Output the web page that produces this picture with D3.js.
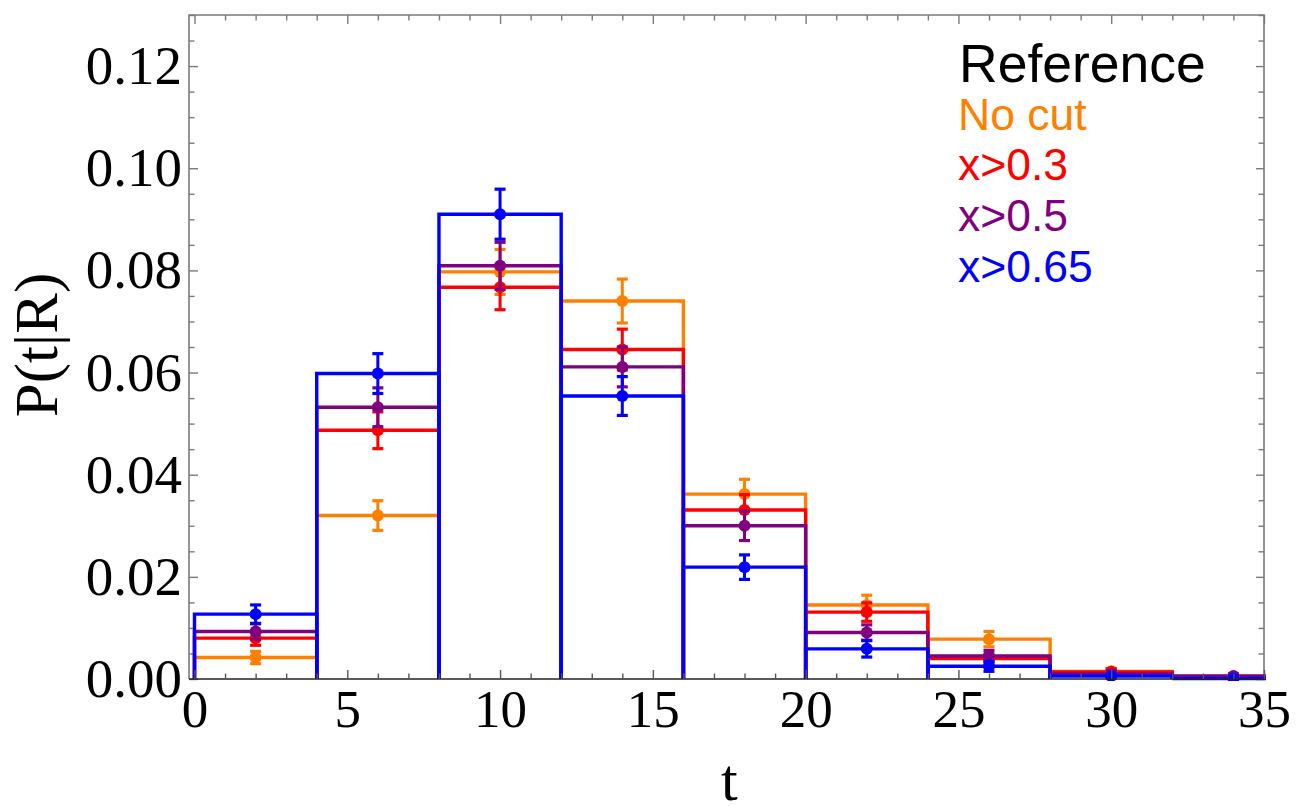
<!DOCTYPE html>
<html>
<head>
<meta charset="utf-8">
<script src="https://cdn.jsdelivr.net/npm/d3@7"></script>
<style>
  html, body { margin: 0; padding: 0; background: #fff; }
  svg { display: block; }
</style>
</head>
<body>
<svg id="chart" width="1298" height="806"></svg>
<script>
// Histogram bins in t (width 4)
const binEdges = [0, 4, 8, 12, 16, 20, 24, 28, 32, 36];
const binCenters = [2, 6, 10, 14, 18, 22, 26, 30, 34];

// P(t|R) per bin and its uncertainty, one pair per selection
const noCut      = [0.0042, 0.0320, 0.0797, 0.0740, 0.0362, 0.0145, 0.0078, 0.0015, 0.0005];
const noCutErr   = [0.0012, 0.0029, 0.0044, 0.0043, 0.0029, 0.0019, 0.0015, 0.0004, 0.0002];
const cut03      = [0.0080, 0.0487, 0.0767, 0.0645, 0.0331, 0.0131, 0.0040, 0.0014, 0.0004];
const cut03Err   = [0.0014, 0.0036, 0.0044, 0.0040, 0.0030, 0.0018, 0.0009, 0.0006, 0.0003];
const cut05      = [0.0093, 0.0532, 0.0809, 0.0611, 0.0300, 0.0091, 0.0045, 0.0010, 0.0006];
const cut05Err   = [0.0015, 0.0038, 0.0046, 0.0039, 0.0029, 0.0015, 0.0011, 0.0005, 0.0004];
const cut065     = [0.0127, 0.0598, 0.0910, 0.0554, 0.0219, 0.0059, 0.0025, 0.0006, 0.0001];
const cut065Err  = [0.0018, 0.0039, 0.0049, 0.0038, 0.0024, 0.0016, 0.0010, 0.0004, 0.0002];

const seriesNames = ["No cut", "x>0.3", "x>0.5", "x>0.65"];
const seriesColors = ["#FF8000", "#FF0000", "#800080", "#0000FF"];

const xTicksMajor = [0, 5, 10, 15, 20, 25, 30, 35];
const yTicksMajor = [0, 0.02, 0.04, 0.06, 0.08, 0.10, 0.12];

const series = [
  { name: seriesNames[0], color: seriesColors[0], values: noCut, errors: noCutErr },
  { name: seriesNames[1], color: seriesColors[1], values: cut03, errors: cut03Err },
  { name: seriesNames[2], color: seriesColors[2], values: cut05, errors: cut05Err },
  { name: seriesNames[3], color: seriesColors[3], values: cut065, errors: cut065Err }
];

const svg = d3.select("#chart");
const frame = { left: 189, right: 1264, top: 15, bottom: 679 };

const x = d3.scaleLinear().domain([-0.18, 35]).range([frame.left, frame.right]);
const y = d3.scaleLinear().domain([0, 0.13]).range([frame.bottom, frame.top]);

const serif = "'Liberation Serif', 'Times New Roman', serif";
const sans = "'Liberation Sans', Arial, Helvetica, sans-serif";
const frameColor = "#7a7a7a";

// clip region for the plot area
svg.append("defs").append("clipPath").attr("id", "plotClip")
  .append("rect")
  .attr("x", frame.left).attr("y", frame.top - 2)
  .attr("width", frame.right - frame.left + 2)
  .attr("height", frame.bottom - frame.top + 4);

// Frame: left, top, right
svg.append("path")
  .attr("d", `M${frame.left},${frame.bottom}V${frame.top}H${frame.right}V${frame.bottom}`)
  .attr("fill", "none").attr("stroke", frameColor).attr("stroke-width", 1.6);

const xMinor = d3.range(0, 36, 1).filter(v => v % 5 !== 0);
const yMinor = d3.range(0, 27).map(i => +(i * 0.005).toFixed(3)).filter((v, i) => i % 4 !== 0);

function styleTicks(g, color) {
  g.select(".domain").remove();
  g.selectAll(".tick line").attr("stroke", color).attr("stroke-width", 1.4);
}

// Left axis
const leftMajor = svg.append("g").attr("transform", `translate(${frame.left},0)`)
  .call(d3.axisLeft(y).tickValues(yTicksMajor).tickSize(-9).tickPadding(7).tickFormat(d3.format(".2f")));
styleTicks(leftMajor, frameColor);
leftMajor.selectAll(".tick text").attr("font-family", serif).attr("font-size", 55).attr("fill", "#000");
const leftMinor = svg.append("g").attr("transform", `translate(${frame.left},0)`)
  .call(d3.axisLeft(y).tickValues(yMinor).tickSize(-5.5).tickFormat(""));
styleTicks(leftMinor, frameColor);

// Right axis (ticks only)
const rightMajor = svg.append("g").attr("transform", `translate(${frame.right},0)`)
  .call(d3.axisRight(y).tickValues(yTicksMajor).tickSize(-8).tickFormat(""));
styleTicks(rightMajor, frameColor);
const rightMinor = svg.append("g").attr("transform", `translate(${frame.right},0)`)
  .call(d3.axisRight(y).tickValues(yMinor).tickSize(-5.5).tickFormat(""));
styleTicks(rightMinor, frameColor);

// Top axis (ticks only)
const topMajor = svg.append("g").attr("transform", `translate(0,${frame.top})`)
  .call(d3.axisTop(x).tickValues(xTicksMajor).tickSize(-9).tickFormat(""));
styleTicks(topMajor, frameColor);
const topMinor = svg.append("g").attr("transform", `translate(0,${frame.top})`)
  .call(d3.axisTop(x).tickValues(xMinor).tickSize(-5.5).tickFormat(""));
styleTicks(topMinor, frameColor);

// Histogram outlines (each bar an open rectangle)
const plot = svg.append("g").attr("clip-path", "url(#plotClip)");
series.forEach(s => {
  plot.append("g").selectAll("path")
    .data(s.values)
    .join("path")
    .attr("d", (v, i) => {
      const x0 = x(binEdges[i]), x1 = x(binEdges[i + 1]);
      return `M${x0},${y(0)}V${y(v)}H${x1}V${y(0)}`;
    })
    .attr("fill", "none")
    .attr("stroke", s.color)
    .attr("stroke-width", 3.4)
    .attr("stroke-linejoin", "miter");
});

// Error bars and points
const capHalf = 5.5;
series.forEach(s => {
  const g = plot.append("g").attr("stroke", s.color).attr("fill", s.color);
  s.values.forEach((v, i) => {
    const cx = x(binCenters[i]);
    const yTop = y(v + s.errors[i]);
    const yBot = y(Math.max(0, v - s.errors[i]));
    g.append("line").attr("x1", cx).attr("x2", cx).attr("y1", yTop).attr("y2", yBot).attr("stroke-width", 3);
    g.append("line").attr("x1", cx - capHalf).attr("x2", cx + capHalf).attr("y1", yTop).attr("y2", yTop).attr("stroke-width", 3.2);
    g.append("line").attr("x1", cx - capHalf).attr("x2", cx + capHalf).attr("y1", yBot).attr("y2", yBot).attr("stroke-width", 3.2);
    g.append("circle").attr("cx", cx).attr("cy", y(v)).attr("r", 6).attr("stroke", "none");
  });
});

// Bottom axis line and ticks
svg.append("line")
  .attr("x1", frame.left).attr("x2", frame.right)
  .attr("y1", frame.bottom).attr("y2", frame.bottom)
  .attr("stroke", "#222").attr("stroke-width", 1.6);
const bottomMajor = svg.append("g").attr("transform", `translate(0,${frame.bottom})`)
  .call(d3.axisBottom(x).tickValues(xTicksMajor).tickSize(-9).tickPadding(10).tickFormat(d3.format("d")));
styleTicks(bottomMajor, "#555");
bottomMajor.selectAll(".tick text").attr("font-family", serif).attr("font-size", 53).attr("fill", "#000");
const bottomMinor = svg.append("g").attr("transform", `translate(0,${frame.bottom})`)
  .call(d3.axisBottom(x).tickValues(xMinor).tickSize(-5.5).tickFormat(""));
styleTicks(bottomMinor, "#555");

// Axis titles
svg.append("text")
  .attr("x", x(17.5)).attr("y", 800)
  .attr("text-anchor", "middle")
  .attr("font-family", serif).attr("font-size", 60).attr("fill", "#000")
  .text("t");
svg.append("text")
  .attr("transform", `translate(57,${345}) rotate(-90)`)
  .attr("text-anchor", "middle")
  .attr("font-family", serif).attr("font-size", 61).attr("fill", "#000")
  .text("P(t|R)");

// Legend
const legend = svg.append("g").attr("font-family", sans);
legend.append("text").attr("x", 959).attr("y", 82).attr("font-size", 53.5).attr("fill", "#000").text("Reference");
const legendBaselines = [130, 180, 231, 282];
series.forEach((s, i) => {
  legend.append("text")
    .attr("x", 958).attr("y", legendBaselines[i])
    .attr("font-size", 44.5).attr("fill", s.color)
    .text(s.name);
});
</script>
</body>
</html>
